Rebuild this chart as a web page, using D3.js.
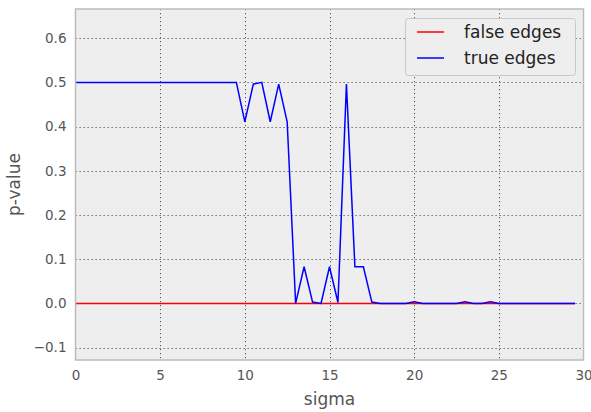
<!DOCTYPE html>
<html>
<head>
<meta charset="utf-8">
<script src="https://cdn.jsdelivr.net/npm/d3@7"></script>
<style>
  html, body { margin: 0; padding: 0; background: #ffffff; }
  svg { display: block; font-family: "DejaVu Sans", sans-serif; }
</style>
</head>
<body>
<svg id="chart" width="591" height="412"></svg>
<script>
// ---- data ----
const sigma = [0, 0.5, 1, 1.5, 2, 2.5, 3, 3.5, 4, 4.5, 5, 5.5, 6, 6.5, 7, 7.5, 8, 8.5, 9, 9.5,
  10, 10.5, 11, 11.5, 12, 12.5, 13, 13.5, 14, 14.5, 15, 15.5, 16, 16.5, 17, 17.5, 18, 18.5, 19, 19.5,
  20, 20.5, 21, 21.5, 22, 22.5, 23, 23.5, 24, 24.5, 25, 25.5, 26, 26.5, 27, 27.5, 28, 28.5, 29, 29.5];
const falseEdges = [0, 0, 0, 0, 0, 0, 0, 0, 0, 0, 0, 0, 0, 0, 0, 0, 0, 0, 0, 0,
  0, 0, 0, 0, 0, 0, 0, 0, 0, 0, 0, 0, 0, 0, 0, 0, 0, 0, 0, 0,
  0, 0, 0, 0, 0, 0, 0, 0, 0, 0, 0, 0, 0, 0, 0, 0, 0, 0, 0, 0];
const trueEdges = [0.5, 0.5, 0.5, 0.5, 0.5, 0.5, 0.5, 0.5, 0.5, 0.5, 0.5, 0.5, 0.5, 0.5, 0.5, 0.5, 0.5, 0.5, 0.5, 0.5,
  0.411, 0.496, 0.5, 0.411, 0.496, 0.411, 0, 0.083, 0.003, 0, 0.083, 0.002, 0.496, 0.083, 0.083, 0.003, 0, 0, 0, 0,
  0.004, 0, 0, 0, 0, 0, 0.004, 0, 0, 0.004, 0, 0, 0, 0, 0, 0, 0, 0, 0, 0];
const seriesNames = ["false edges", "true edges"];
const seriesColors = ["#ff0000", "#0000ff"];
const xTicks = [0, 5, 10, 15, 20, 25, 30];
const yTicks = [-0.1, 0.0, 0.1, 0.2, 0.3, 0.4, 0.5, 0.6];
const xDomain = [0, 30];
const yDomain = [-0.128, 0.666];

// ---- layout ----
const svg = d3.select("#chart");
const plot = { left: 75.5, right: 583.5, top: 9, bottom: 360 };
const x = d3.scaleLinear().domain(xDomain).range([plot.left, plot.right]);
const y = d3.scaleLinear().domain(yDomain).range([plot.bottom, plot.top]);

// background
svg.append("rect")
  .attr("x", plot.left).attr("y", plot.top)
  .attr("width", plot.right - plot.left).attr("height", plot.bottom - plot.top)
  .attr("fill", "#eeeeee");

// grid
const grid = svg.append("g").attr("class", "grid");
grid.selectAll("line.gx").data(xTicks.filter(t => t > xDomain[0] && t < xDomain[1])).join("line")
  .attr("class", "gx")
  .attr("x1", d => Math.round(x(d)) + 0.5).attr("x2", d => Math.round(x(d)) + 0.5)
  .attr("y1", plot.top).attr("y2", plot.bottom)
  .attr("stroke", "#555").attr("stroke-width", 1).attr("stroke-dasharray", "1.2,2.8");
grid.selectAll("line.gy").data(yTicks).join("line")
  .attr("class", "gy")
  .attr("y1", d => Math.round(y(d)) + 0.5).attr("y2", d => Math.round(y(d)) + 0.5)
  .attr("x1", plot.left).attr("x2", plot.right)
  .attr("stroke", "#555").attr("stroke-width", 1).attr("stroke-dasharray", "1.2,2.8");

// lines
const line = d3.line().x((d, i) => x(sigma[i])).y(d => y(d));
const seriesData = [falseEdges, trueEdges];
seriesData.forEach((vals, k) => {
  svg.append("path")
    .datum(vals)
    .attr("d", line)
    .attr("fill", "none")
    .attr("stroke", seriesColors[k])
    .attr("stroke-width", 1.5)
    .attr("stroke-linejoin", "miter");
});

// frame
svg.append("rect")
  .attr("x", plot.left).attr("y", plot.top)
  .attr("width", plot.right - plot.left).attr("height", plot.bottom - plot.top)
  .attr("fill", "none").attr("stroke", "#bcbcbc").attr("stroke-width", 1.5);

// axes (labels only)
const xAxis = d3.axisBottom(x).tickValues(xTicks).tickFormat(d3.format("d")).tickSize(0).tickPadding(10);
const gx = svg.append("g").attr("transform", `translate(0,${plot.bottom})`).call(xAxis);
gx.select(".domain").remove();
gx.selectAll("text").attr("fill", "#555").attr("font-size", 13.5).attr("font-family", "DejaVu Sans");

const yAxis = d3.axisLeft(y).tickValues(yTicks).tickFormat(d3.format(".1f")).tickSize(0).tickPadding(9);
const gy = svg.append("g").attr("transform", `translate(${plot.left},0)`).call(yAxis);
gy.select(".domain").remove();
gy.selectAll("text").attr("fill", "#555").attr("font-size", 13.5).attr("font-family", "DejaVu Sans");

// axis labels
svg.append("text")
  .attr("x", (plot.left + plot.right) / 2).attr("y", 405)
  .attr("text-anchor", "middle").attr("fill", "#555").attr("font-size", 17)
  .text("sigma");
svg.append("text")
  .attr("transform", `translate(20,${(plot.top + plot.bottom) / 2}) rotate(-90)`)
  .attr("text-anchor", "middle").attr("fill", "#555").attr("font-size", 17)
  .text("p-value");

// legend
const lg = svg.append("g");
lg.append("rect")
  .attr("x", 405.5).attr("y", 18.5).attr("width", 170).attr("height", 57)
  .attr("rx", 3).attr("fill", "#eeeeee").attr("stroke", "#c8c8c8").attr("stroke-width", 1);
seriesNames.forEach((name, k) => {
  const yy = 32 + k * 26;
  lg.append("line").attr("x1", 417).attr("x2", 444).attr("y1", yy).attr("y2", yy)
    .attr("stroke", seriesColors[k]).attr("stroke-width", 1.5);
  lg.append("text").attr("x", 464).attr("y", yy).attr("dy", "0.35em")
    .attr("fill", "#222").attr("font-size", 17).text(name);
});
</script>
</body>
</html>
